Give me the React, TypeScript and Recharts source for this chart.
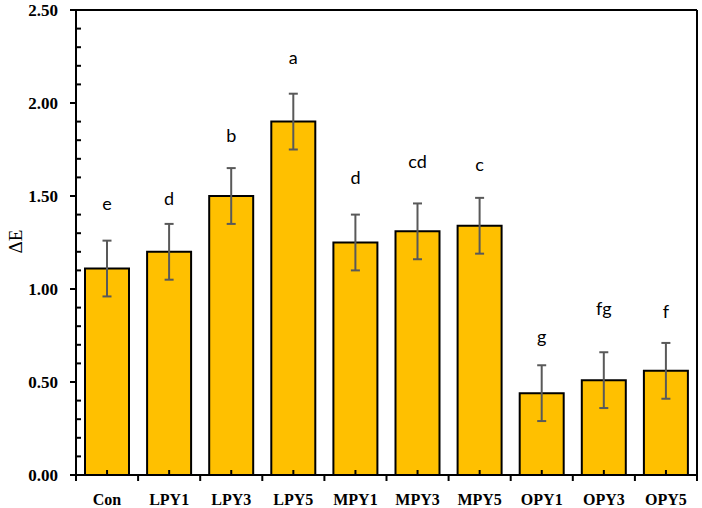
import React from 'react';
import { ComposedChart, Bar, ErrorBar, XAxis, YAxis, Scatter, CartesianGrid } from 'recharts';

const categories = ['Con', 'LPY1', 'LPY3', 'LPY5', 'MPY1', 'MPY3', 'MPY5', 'OPY1', 'OPY3', 'OPY5'];
const meanValues = [1.11, 1.2, 1.5, 1.9, 1.25, 1.31, 1.34, 0.44, 0.51, 0.56];
const errorValues = [0.15, 0.15, 0.15, 0.15, 0.15, 0.15, 0.15, 0.15, 0.15, 0.15];
const groupLetters = ['e', 'd', 'b', 'a', 'd', 'cd', 'c', 'g', 'fg', 'f'];
const letterLevels = [1.46, 1.49, 1.83, 2.25, 1.6, 1.69, 1.67, 0.75, 0.9, 0.88];
const majorTicks = [0, 0.5, 1, 1.5, 2, 2.5];
const minorStep = 0.1;
const yLabel = 'ΔE';

const W = 702;
const H = 508;
const MARGIN = { top: 10, right: 5, bottom: 0, left: 0 };
const Y_AXIS_W = 76;
const X_AXIS_H = 33;
const PLOT_W = W - MARGIN.left - MARGIN.right - Y_AXIS_W;
const BAND = PLOT_W / categories.length;

const allYTicks: number[] = [];
for (let i = 0; i <= Math.round(majorTicks[majorTicks.length - 1] / minorStep); i++) {
  allYTicks.push(Math.round(i * minorStep * 100) / 100);
}

const data = categories.map((name, i) => ({
  name,
  mean: meanValues[i],
  err: errorValues[i],
  letter: groupLetters[i],
  letterY: letterLevels[i],
}));

const SERIF = '"Liberation Serif", "Times New Roman", serif';
const SANS = 'Lato, "Noto Sans", sans-serif';

const YTick = (props: any) => {
  const { x, y, payload } = props;
  const v = payload.value;
  const isMajor = majorTicks.some((m) => Math.abs(m - v) < 1e-6);
  if (isMajor) {
    return (
      <g>
        <line x1={x - 6} x2={x} y1={y} y2={y} stroke="#000" strokeWidth={2} />
        <text
          x={x - 18}
          y={y}
          textAnchor="end"
          dominantBaseline="central"
          fontFamily={SERIF}
          fontWeight="bold"
          fontSize={17}
          fill="#000"
        >
          {v.toFixed(2)}
        </text>
      </g>
    );
  }
  return <line x1={x} x2={x + 5} y1={y} y2={y} stroke="#000" strokeWidth={2} />;
};

const XTick = (props: any) => {
  const { x, y, payload, index } = props;
  return (
    <g>
      <line x1={x} x2={x} y1={y - 5} y2={y} stroke="#000" strokeWidth={2} />
      <line x1={x + BAND / 2} x2={x + BAND / 2} y1={y} y2={y + 6} stroke="#000" strokeWidth={2} />
      {index === 0 ? (
        <line x1={x - BAND / 2} x2={x - BAND / 2} y1={y} y2={y + 6} stroke="#000" strokeWidth={2} />
      ) : null}
      <text
        x={x}
        y={y + 30}
        textAnchor="middle"
        fontFamily={SERIF}
        fontWeight="bold"
        fontSize={16}
        fill="#000"
      >
        {payload.value}
      </text>
    </g>
  );
};

const LetterShape = (props: any) => {
  const { cx, cy, payload } = props;
  return (
    <text
      x={cx}
      y={cy}
      textAnchor="middle"
      dominantBaseline="central"
      fontFamily={SANS}
      fontSize={18}
      fill="#000"
    >
      {payload.letter}
    </text>
  );
};

const YLabel = (props: any) => {
  const vb = props.viewBox || { x: 0, y: 10, width: 76, height: 465 };
  const cx = vb.x + 15;
  const cy = vb.y + vb.height / 2 - 1;
  return (
    <text
      x={cx}
      y={cy}
      transform={`rotate(-90, ${cx}, ${cy})`}
      textAnchor="middle"
      dominantBaseline="central"
      fontFamily={SERIF}
      fontSize={19}
      fill="#000"
    >
      {yLabel}
    </text>
  );
};

export default function App() {
  return (
    <div style={{ position: 'absolute', left: 0, top: 0, width: W, height: H, background: '#fff' }}>
      <ComposedChart width={W} height={H} data={data} margin={MARGIN}>
        <CartesianGrid
          stroke="#000"
          strokeWidth={2}
          horizontalCoordinatesGenerator={(p: any) => [p.offset.top]}
          verticalCoordinatesGenerator={(p: any) => [p.offset.left + p.offset.width]}
        />
        <XAxis
          dataKey="name"
          height={X_AXIS_H}
          interval={0}
          tickSize={0}
          tickMargin={0}
          tick={<XTick />}
          tickLine={false}
          axisLine={{ stroke: '#000', strokeWidth: 2 }}
        />
        <YAxis
          type="number"
          domain={[0, 2.5]}
          ticks={allYTicks}
          interval={0}
          width={Y_AXIS_W}
          tickSize={0}
          tickMargin={0}
          tick={<YTick />}
          tickLine={false}
          axisLine={{ stroke: '#000', strokeWidth: 2 }}
          label={<YLabel />}
        />
        <Bar dataKey="mean" fill="#FFC000" stroke="#000" strokeWidth={2} barSize={44} isAnimationActive={false}>
          <ErrorBar dataKey="err" width={4.5} stroke="#595959" strokeWidth={2} />
        </Bar>
        <Scatter dataKey="letterY" shape={<LetterShape />} isAnimationActive={false} />
      </ComposedChart>
    </div>
  );
}
